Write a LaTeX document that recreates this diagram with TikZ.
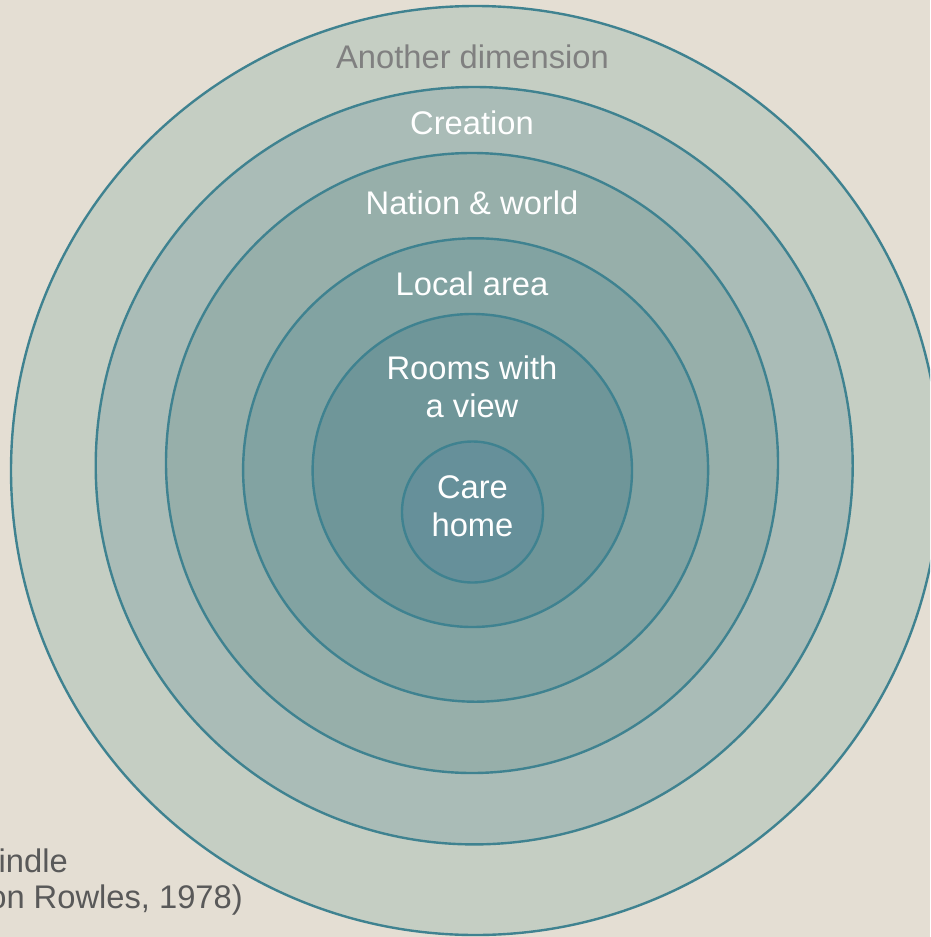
\documentclass[tikz,border=0pt]{standalone}
\usepackage{fontspec}
\setmainfont{Liberation Sans}
\definecolor{bgc}{HTML}{E4DED3}
\definecolor{ringA}{HTML}{C5CEC3}
\definecolor{ringB}{HTML}{AABCB7}
\definecolor{ringC}{HTML}{97AFAA}
\definecolor{ringD}{HTML}{82A3A2}
\definecolor{ringE}{HTML}{6F9699}
\definecolor{ringF}{HTML}{66909A}
\definecolor{edgec}{HTML}{3F8290}
\definecolor{greytext}{HTML}{808080}
\definecolor{captext}{HTML}{595959}
\tikzset{
  ring/.style={draw=edgec, line width=2.4pt},
  lbl/.style={inner sep=0pt, anchor=base, text=white, font=\fontsize{32.7}{38}\selectfont},
  greylbl/.style={lbl, text=greytext},
  caplbl/.style={inner sep=0pt, anchor=base east, text=captext, font=\fontsize{32.7}{38}\selectfont}
}
\begin{document}
\begin{tikzpicture}[x=1pt,y=-1pt]
\useasboundingbox (0,0) rectangle (930,937);
\clip (0,0) rectangle (930,937);
\fill[bgc] (0,0) rectangle (930,937);
\draw[ring, fill=ringA] (475.5,470.5) ellipse [x radius=464.5pt, y radius=464.5pt];
\draw[ring, fill=ringB] (474.2,465.7) ellipse [x radius=378.5pt, y radius=378.7pt];
\draw[ring, fill=ringC] (472,463) ellipse [x radius=306pt, y radius=310pt];
\draw[ring, fill=ringD] (475.6,470) ellipse [x radius=232.5pt, y radius=231.7pt];
\draw[ring, fill=ringE] (472.3,470.5) ellipse [x radius=159.7pt, y radius=156.5pt];
\draw[ring, fill=ringF] (472.5,512) ellipse [x radius=70.5pt, y radius=70.5pt];
\node[greylbl] (tdim) at (472.5,68.3) {Another dimension};
\node[lbl] (tcre) at (472,134.3) {Creation};
\node[lbl] (tnat) at (472,214.3) {Nation \& world};
\node[lbl] (tloc) at (472,295) {Local area};
\node[lbl] (troom1) at (472,379.3) {Rooms with};
\node[lbl] (troom2) at (472,417.3) {a view};
\node[lbl] (tcare1) at (472.5,498.3) {Care};
\node[lbl] (tcare2) at (472.5,536.7) {home};
\node[caplbl] (cap1) at (68,872.3) {indle};
\node[caplbl] (cap2) at (243,908.3) {on Rowles, 1978)};
\end{tikzpicture}
\end{document}
